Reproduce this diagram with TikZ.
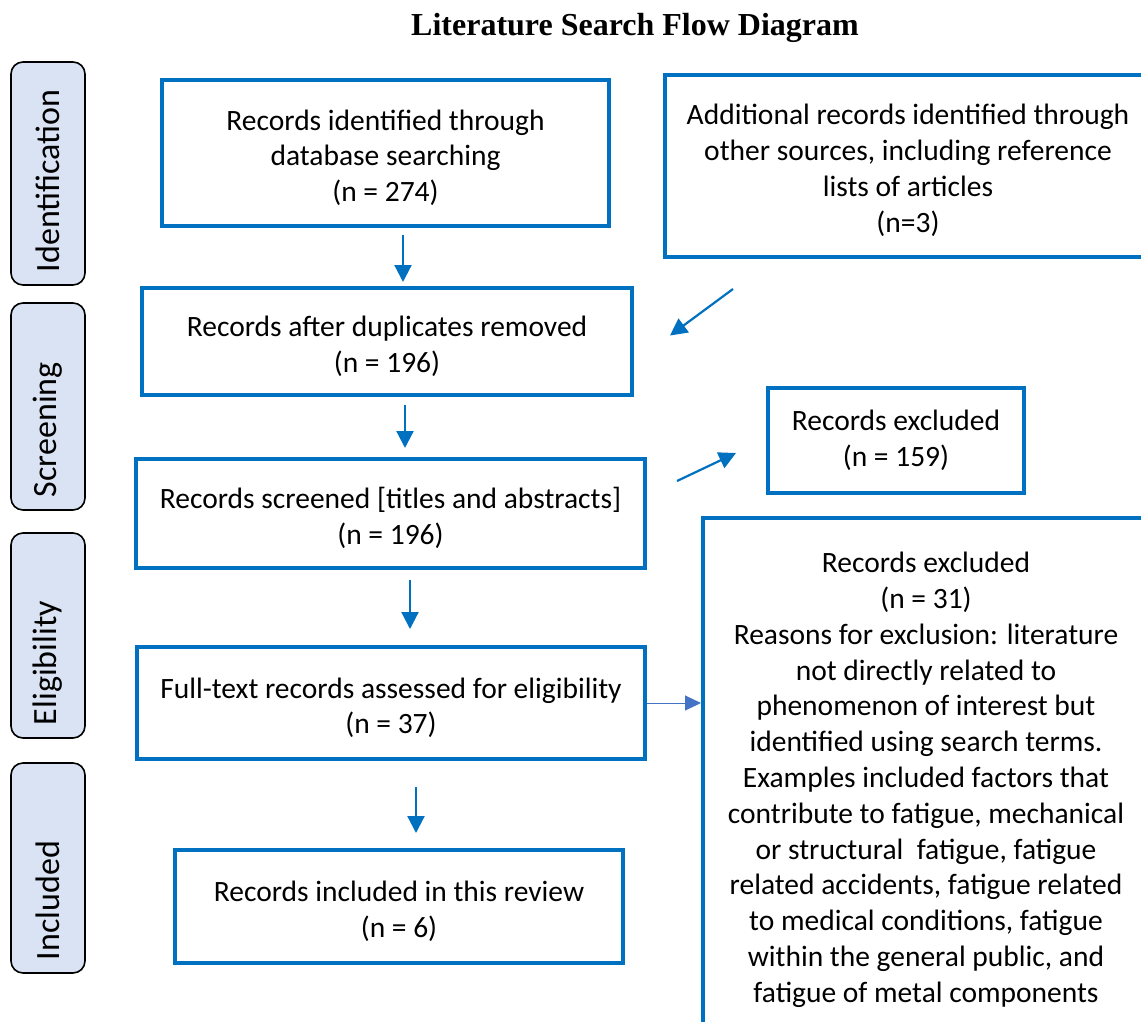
\documentclass[tikz,border=0pt]{standalone}
\usepackage{fontspec}
\setmainfont{Carlito}
\newfontfamily\titlefont{Liberation Serif}
\usetikzlibrary{arrows.meta,calc}
\definecolor{boxblue}{HTML}{0070C0}
\definecolor{headblue}{HTML}{4472C4}
\definecolor{sidefill}{HTML}{DAE3F3}
\newcommand{\tpad}{\rule{0pt}{30pt}}
\begin{document}
\begin{tikzpicture}[x=1pt,y=-1pt,
  box/.style={draw=boxblue, line width=4pt, align=center, inner sep=0pt,
    font=\fontsize{29.5}{35.5}\selectfont},
  side/.style={draw=black, line width=1.6pt, rounded corners=12pt, fill=sidefill,
    rotate=90, minimum height=74pt, inner xsep=13pt, align=left,
    font=\fontsize{34}{40}\selectfont},
  arr/.style={draw=boxblue, line width=2.2pt, -{Triangle[length=17pt,width=17pt]}},
  thinarr/.style={draw=headblue, line width=1pt, -{Triangle[length=16pt,width=15pt]}}
]
\useasboundingbox (0,0) rectangle (1141,1021);
\begin{scope}
\clip (0,0) rectangle (1141,1021);

\node[font=\titlefont\bfseries\fontsize{32}{36}\selectfont] (title) at (635,28) {Literature Search Flow Diagram};

% side labels
\node[side, minimum width=223pt, text width=197pt] (sid) at (48,173.5) {Identification};
\node[side, minimum width=207pt, text width=181pt] (sscr) at (48,406.5) {Screening};
\node[side, minimum width=205pt, text width=179pt] (selig) at (48,635.5) {Eligibility};
\node[side, minimum width=210pt, text width=184pt] (sinc) at (48,868) {Included};

% main boxes
\node[box, minimum width=447pt, minimum height=146pt] (b1) at (385.5,153)
  {\tpad Records identified through\\database searching\\(n = 274)};
\node[box, minimum width=486pt, minimum height=182pt, font=\fontsize{29.5}{36}\selectfont] (b2) at (908,166)
  {\tpad Additional records identified through\\other sources, including reference\\lists of articles\\(n=3)};
\node[box, minimum width=490pt, minimum height=107pt] (b3) at (387,341.5)
  {\tpad Records after duplicates removed\\(n = 196)};
\node[box, minimum width=509pt, minimum height=109pt] (b4) at (390.5,513.5)
  {\tpad Records screened [titles and abstracts]\\(n = 196)};
\node[box, minimum width=256pt, minimum height=105pt] (b7) at (896,440.5)
  {Records excluded\\(n = 159)};
\node[box, minimum width=508pt, minimum height=112pt] (b5) at (391,703)
  {\tpad Full-text records assessed for eligibility\\(n = 37)};
\node[box, minimum width=448pt, minimum height=113pt] (b6) at (399,906.5)
  {\tpad Records included in this review\\(n = 6)};
\node[box, minimum width=446pt, minimum height=514pt, font=\fontsize{29.5}{35.8}\selectfont] (b8) at (926,775)
  {\tpad Records excluded\\(n = 31)\\Reasons for exclusion: literature\\not directly related to\\phenomenon of interest but\\identified using search terms.\\Examples included factors that\\contribute to fatigue, mechanical\\or structural\ \ fatigue, fatigue\\related accidents, fatigue related\\to medical conditions, fatigue\\within the general public, and\\fatigue of metal components};

% connectors
\draw[arr, shorten <=7pt, shorten >=4pt] ([xshift=17.5pt]b1.south) -- ([xshift=16pt]b3.north);
\draw[arr] ([xshift=70pt,yshift=-30pt]b2.south west) -- ([xshift=36pt,yshift=6pt]b3.east);
\draw[arr, shorten <=8pt, shorten >=9pt] ([xshift=18pt]b3.south) -- ([xshift=14.5pt]b4.north);
\draw[arr] ([xshift=30pt,yshift=32.5pt]b4.east) -- ([xshift=-30pt,yshift=-12.5pt]b7.west);
\draw[arr, shorten <=10pt, shorten >=16pt] ([xshift=19.5pt]b4.south) -- ([xshift=19pt]b5.north);
\draw[thinarr] (b5.east) -- (b5.east -| b8.west);
\draw[arr, shorten <=26pt, shorten >=15pt] ([xshift=25pt]b5.south) -- ([xshift=17pt]b6.north);
\end{scope}
\end{tikzpicture}
\end{document}
